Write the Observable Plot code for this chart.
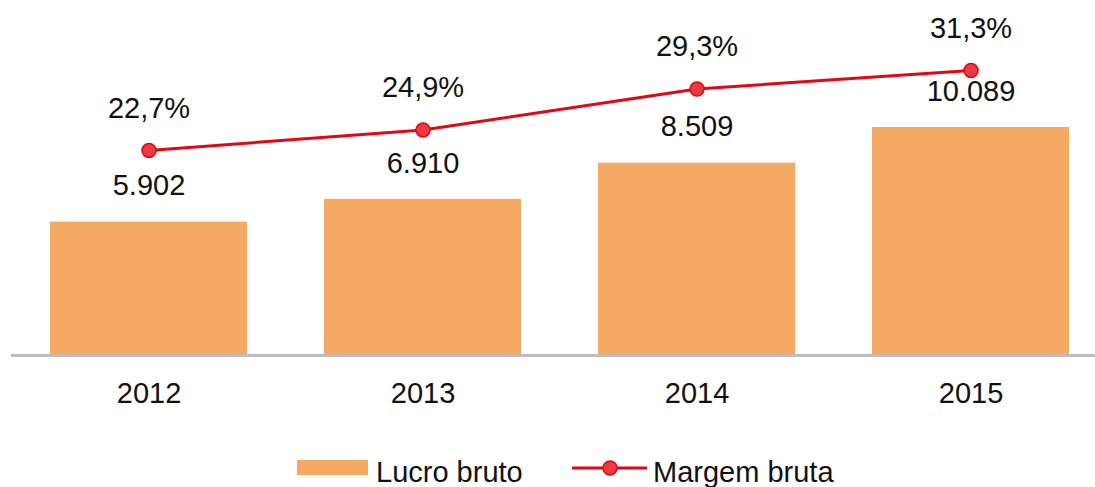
<!DOCTYPE html>
<html>
<head>
<meta charset="utf-8">
<script src="https://cdn.jsdelivr.net/npm/d3@7"></script>
<script src="https://cdn.jsdelivr.net/npm/@observablehq/plot@0.6"></script>
<style>
  html, body { margin: 0; padding: 0; background: #fff; }
  #wrap { width: 1095px; height: 487px; font-family: "Liberation Sans", Arial, sans-serif; }
  #chart svg, #legend svg { display: block; }
</style>
</head>
<body>
<div id="wrap"><div id="chart"></div><div id="legend"></div></div>
<script>
const years = ["2012", "2013", "2014", "2015"];
const lucroBruto = [5902, 6910, 8509, 10089];
const margemBruta = [22.7, 24.9, 29.3, 31.3];
const lucroLabels = ["5.902", "6.910", "8.509", "10.089"];
const margemLabels = ["22,7%", "24,9%", "29,3%", "31,3%"];
const seriesNames = ["Lucro bruto", "Margem bruta"];

const barColor = "#f6a963";
const lineColor = "#e30613";
const dotFill = "#ea3a42";
const textColor = "#111";

const data = years.map((y, i) => ({
  year: y, lucro: lucroBruto[i], margem: margemBruta[i],
  lucroLabel: lucroLabels[i], margemLabel: margemLabels[i]
}));

// secondary (percent) axis mapped onto the primary scale
const pct = d3.scaleLinear().domain([0, 37.1]).range([-265, 15000]);

const chart = Plot.plot({
  width: 1095,
  height: 440,
  marginLeft: 11,
  marginRight: 0,
  marginTop: 16,
  marginBottom: 85,
  style: { fontFamily: "Liberation Sans, Arial, sans-serif", fontSize: "29px", color: textColor, background: "#fff" },
  x: { domain: years, range: [11, 1108], paddingInner: 0.28, paddingOuter: 0.14, label: null },
  y: { domain: [0, 15000], axis: null },
  marks: [
    Plot.barY(data, { x: "year", y: "lucro", fill: barColor }),
    Plot.ruleY([0], { stroke: "#bdbdbd", strokeWidth: 3 }),
    Plot.axisX({ tickSize: 0, tickPadding: 27, fontSize: 29, label: null }),
    Plot.text(data, { x: "year", y: "lucro", text: "lucroLabel", dy: -36, fontSize: 29, fill: textColor }),
    Plot.line(data, { x: "year", y: d => pct(d.margem), stroke: lineColor, strokeWidth: 3 }),
    Plot.dot(data, { x: "year", y: d => pct(d.margem), r: 7, fill: dotFill, stroke: lineColor, strokeWidth: 1.5 }),
    Plot.text(data, { x: "year", y: d => pct(d.margem), text: "margemLabel", dy: -42, fontSize: 29, fill: textColor })
  ]
});
document.getElementById("chart").appendChild(chart);

// legend below the chart
const lg = d3.select("#legend").append("svg").attr("width", 1095).attr("height", 47)
  .style("font-family", "Liberation Sans, Arial, sans-serif").style("font-size", "29px");
lg.append("rect").attr("x", 297).attr("y", 20).attr("width", 71).attr("height", 15).attr("fill", barColor);
lg.append("text").attr("x", 376).attr("y", 42).attr("fill", textColor).text(seriesNames[0]);
lg.append("line").attr("x1", 572).attr("x2", 647).attr("y1", 28).attr("y2", 28).attr("stroke", lineColor).attr("stroke-width", 3);
lg.append("circle").attr("cx", 610).attr("cy", 28).attr("r", 7).attr("fill", dotFill).attr("stroke", lineColor).attr("stroke-width", 1.5);
lg.append("text").attr("x", 653).attr("y", 42).attr("fill", textColor).text(seriesNames[1]);
</script>
</body>
</html>
